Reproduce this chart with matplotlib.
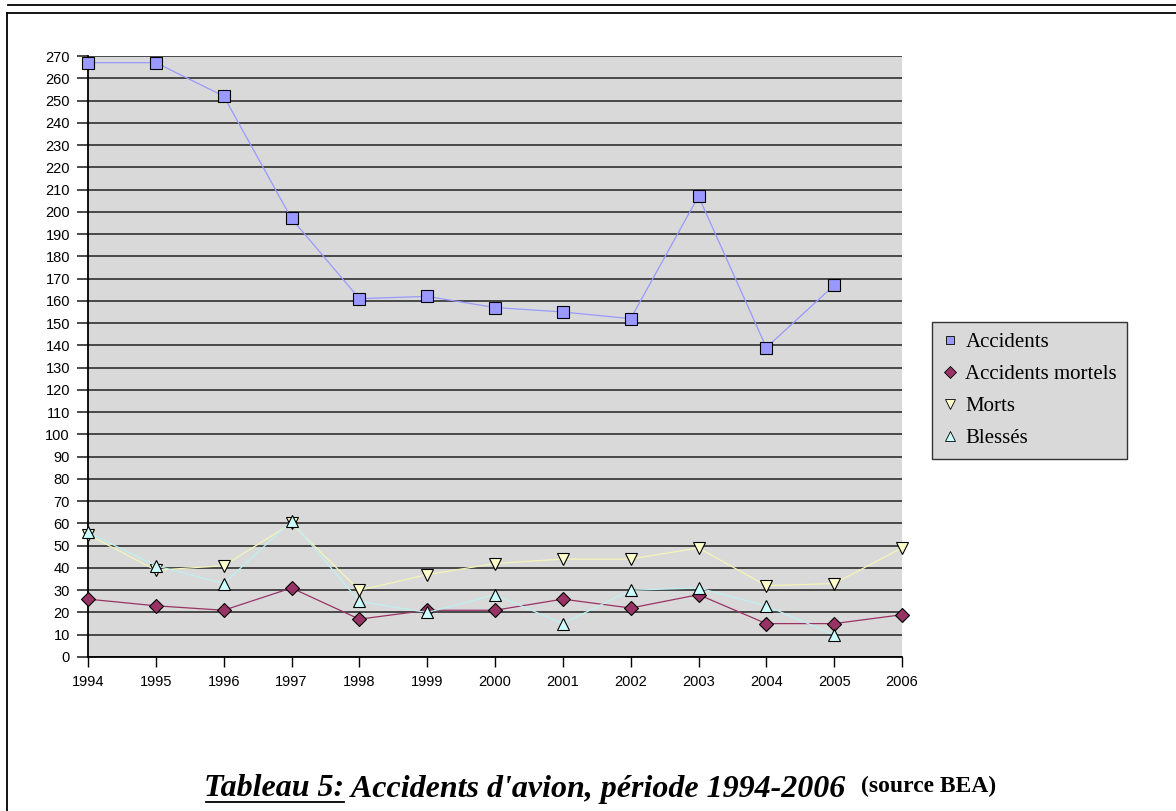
import matplotlib
matplotlib.use('Agg')
import matplotlib.pyplot as plt
from matplotlib.lines import Line2D

# data
years = ['1994', '1995', '1996', '1997', '1998', '1999', '2000',
         '2001', '2002', '2003', '2004', '2005', '2006']
accidents = [267, 267, 252, 197, 161, 162, 157, 155, 152, 207, 139, 167, None]
accidents_mortels = [26, 23, 21, 31, 17, 21, 21, 26, 22, 28, 15, 15, 19]
morts = [55, 39, 41, 60, 30, 37, 42, 44, 44, 49, 32, 33, 49]
blesses = [56, 41, 33, 61, 25, 20, 28, 15, 30, 31, 23, 10, None]

W, H = 1176, 811
fig = plt.figure(figsize=(W / 100, H / 100), dpi=100)
fig.patch.set_facecolor('white')

# page frame lines
def fig_line(x0, y0, x1, y1, lw=1.3):
    fig.add_artist(Line2D([x0 / W, x1 / W], [1 - y0 / H, 1 - y1 / H],
                          transform=fig.transFigure, color='black', lw=lw))

fig_line(8, 5, W, 5)
fig_line(7, 13, W, 13)
fig_line(7, 13, 7, H)

ax = fig.add_axes([88 / W, 1 - 657 / H, (902 - 88) / W, (657 - 56) / H])
ax.set_facecolor('#d9d9d9')

x = list(range(len(years)))

def to_xy(vals):
    pts = [(i, v) for i, v in zip(x, vals) if v is not None]
    return [p[0] for p in pts], [p[1] for p in pts]

series = [
    ('Accidents', accidents, '#9999ff', '#9999ff', 's', 8.3),
    ('Accidents mortels', accidents_mortels, '#993366', '#993366', 'D', 7.2),
    ('Morts', morts, '#f5f5b8', '#ffffcc', 'v', 9),
    ('Blessés', blesses, '#bff0f0', '#ccffff', '^', 9),
]

handles = []
for name, vals, lc, fc, mk, ms in series:
    xs, ys = to_xy(vals)
    ax.plot(xs, ys, color=lc, lw=0.9, marker=mk, markersize=ms,
            markerfacecolor=fc, markeredgecolor='black', markeredgewidth=0.8,
            clip_on=False, zorder=3)
    handles.append(Line2D([], [], linestyle='none', marker=mk,
                          markersize=ms * 0.78, markerfacecolor=fc,
                          markeredgecolor='black', markeredgewidth=0.6,
                          label=name))

ax.set_xlim(0, 12)
ax.set_ylim(0, 270)
ax.set_xticks(x)
ax.set_xticklabels(years)
ax.set_yticks(range(0, 271, 10))
ax.tick_params(axis='both', labelsize=10.5, width=1, direction='out',
               colors='black')
ax.tick_params(axis='x', length=7, pad=6)
ax.tick_params(axis='y', length=8, pad=5, width=1.3, color='#3c3c3c')
for lab in ax.get_xticklabels() + ax.get_yticklabels():
    lab.set_fontfamily('Liberation Sans')

ax.grid(axis='y', color='#3c3c3c', lw=1.3)
ax.grid(axis='x', visible=False)
ax.set_axisbelow(True)
ax.spines['top'].set_visible(False)
ax.spines['right'].set_visible(False)
ax.spines['left'].set_linewidth(1.3)
ax.spines['bottom'].set_linewidth(1.3)

leg = fig.legend(handles=handles, loc='upper left',
                 bbox_to_anchor=(932 / W, 1 - 322 / H),
                 prop={'family': 'Liberation Serif', 'size': 15},
                 frameon=True, fancybox=False, facecolor='#d9d9d9',
                 edgecolor='#333333', framealpha=1, handletextpad=0.35,
                 handlelength=0.75, labelspacing=0.6, borderpad=0.5,
                 borderaxespad=0)
leg.get_frame().set_linewidth(1.0)

# caption with underlined "Tableau 5:"
fig.canvas.draw()
renderer = fig.canvas.get_renderer()
y_cap = 1 - 789 / H
t1 = fig.text(0, y_cap, 'Tableau 5:', family='Liberation Serif',
              weight='bold', style='italic', size=23, va='center')
t2 = fig.text(0, y_cap, ' Accidents d\'avion, période 1994-2006  ',
              family='Liberation Serif', weight='bold', style='italic',
              size=23, va='center')
t3 = fig.text(0, y_cap + 0.003, '(source BEA)', family='Liberation Serif',
              weight='bold', size=17, va='center')
widths = [t.get_window_extent(renderer).width for t in (t1, t2, t3)]
total = sum(widths)
x0 = 600 - total / 2
pos = x0
for t, w in zip((t1, t2, t3), widths):
    t.set_x(pos / W)
    pos += w
fig_line(x0 + 2, 802, x0 + widths[0], 802, lw=1.3)

fig.savefig('out.png', dpi=100, facecolor='white')
